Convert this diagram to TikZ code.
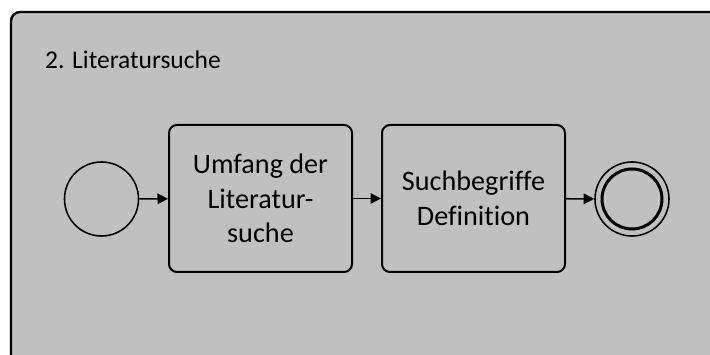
\documentclass[tikz,border=0pt]{standalone}
\usepackage{fontspec}
\setmainfont[Ligatures={NoCommon}]{Carlito}
\usetikzlibrary{arrows.meta}
\definecolor{poolgray}{HTML}{C0C0C0}
\tikzset{
  pool/.style={draw=black, line width=2.4pt, fill=poolgray, rounded corners=9pt},
  task/.style={draw=black, line width=2pt, rounded corners=8pt, minimum width=183pt,
    minimum height=147pt, align=center, inner sep=0pt, font=\fontsize{28.2}{34.5}\selectfont},
  startev/.style={circle, draw=black, line width=1.6pt, minimum size=74pt, inner sep=0pt},
  endev/.style={circle, draw=black, line width=1.6pt, minimum size=74pt, inner sep=0pt},
  flow/.style={line width=1.6pt, -{Triangle[length=10.5pt,width=10.5pt]}},
}
\begin{document}
\begin{tikzpicture}[x=1pt, y=-1pt]
  \useasboundingbox (0,0) rectangle (710,355);
  % process area, running past the right and bottom edges
  \draw[pool] (11,12) rectangle (740,400);
  \node[anchor=base west, font=\fontsize{25.5}{30}\selectfont, inner sep=0pt] (title) at (45,68.5) {2. Literatursuche};

  \node[startev] (start) at (101.5,199) {};
  \node[task] (t1) at (260.5,198.5) {Umfang der\\Literatur-\\suche};
  \node[task] (t2) at (473.5,198.5) {Suchbegriffe\\Definition};
  \node[endev] (end) at (632,199) {};
  \node[circle, draw=black, line width=3pt, minimum size=60pt, inner sep=0pt] (endin) at (end.center) {};

  \draw[flow] (start) -- (t1);
  \draw[flow] (t1) -- (t2);
  \draw[flow] (t2) -- (end);
\end{tikzpicture}
\end{document}
